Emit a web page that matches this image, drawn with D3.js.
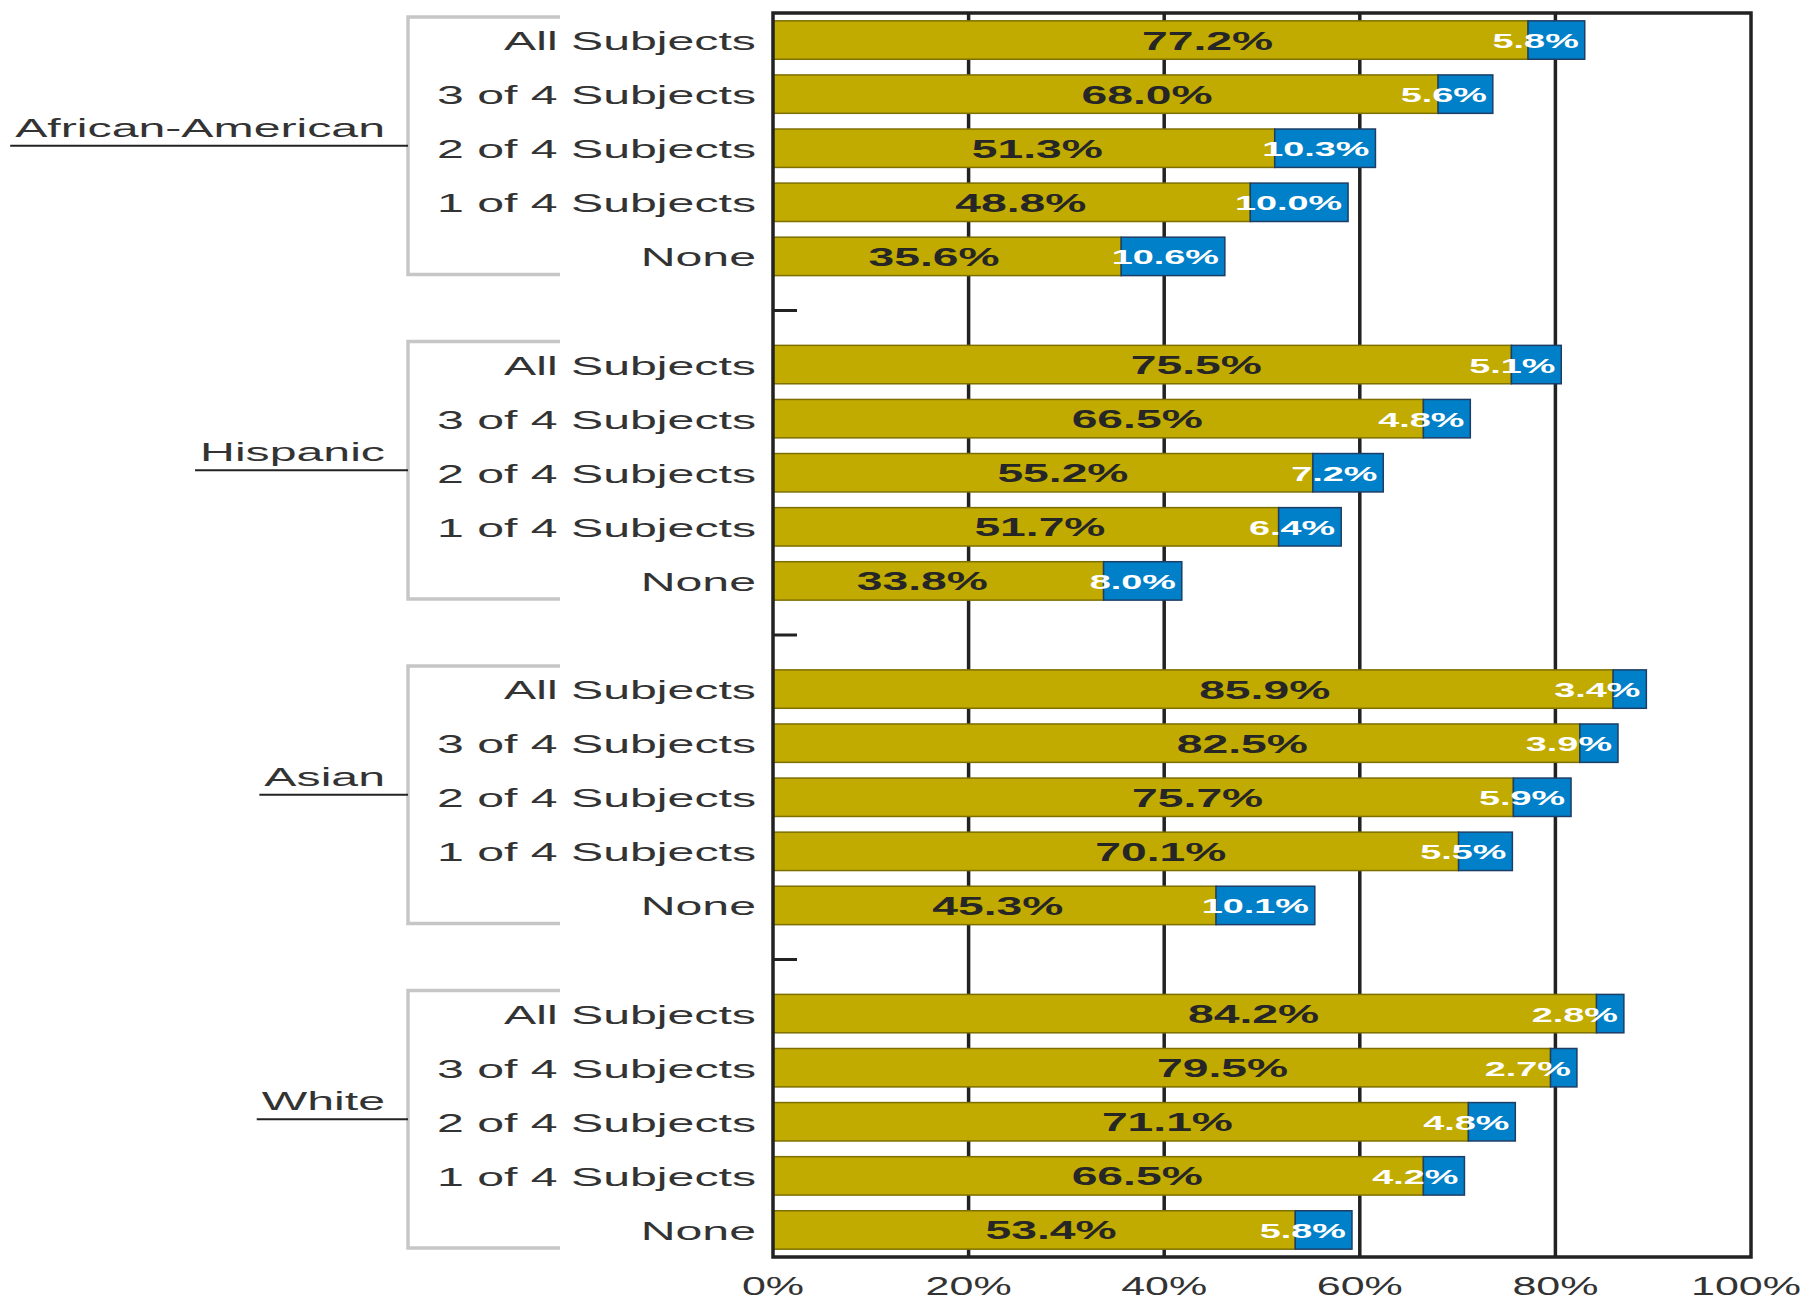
<!DOCTYPE html>
<html>
<head>
<meta charset="utf-8">
<script src="https://cdn.jsdelivr.net/npm/d3@7"></script>
<style>
  html, body { margin: 0; padding: 0; background: #fff; }
  svg { display: block; }
</style>
</head>
<body>
<div id="chart"></div>
<script>
// ---- data ----
const groups = ["African-American", "Hispanic", "Asian", "White"];
const categories = ["All Subjects", "3 of 4 Subjects", "2 of 4 Subjects", "1 of 4 Subjects", "None"];
const goldValues = [
  [77.2, 68.0, 51.3, 48.8, 35.6],
  [75.5, 66.5, 55.2, 51.7, 33.8],
  [85.9, 82.5, 75.7, 70.1, 45.3],
  [84.2, 79.5, 71.1, 66.5, 53.4]
];
const blueValues = [
  [5.8, 5.6, 10.3, 10.0, 10.6],
  [5.1, 4.8, 7.2, 6.4, 8.0],
  [3.4, 3.9, 5.9, 5.5, 10.1],
  [2.8, 2.7, 4.8, 4.2, 5.8]
];
const xTicks = [0, 20, 40, 60, 80, 100];

// ---- layout ----
const W = 1810, H = 1302;
const plot = { left: 773, right: 1751, top: 13, bottom: 1257 };
const SX = 1.82; // horizontal stretch of the text in the reference

const rows = [];
const domain = [];
groups.forEach((g, gi) => {
  categories.forEach((c, ci) => {
    const key = g + "|" + c;
    domain.push(key);
    rows.push({ key, group: g, gi, cat: c, ci, gold: goldValues[gi][ci], blue: blueValues[gi][ci] });
  });
  if (gi < groups.length - 1) domain.push("gap" + gi);
});

const x = d3.scaleLinear().domain([0, 100]).range([plot.left, plot.right]);
const y = d3.scaleBand().domain(domain).range([plot.top, plot.bottom])
  .paddingInner(0.29).paddingOuter(0.145);
const step = y.step();

const svg = d3.select("#chart").append("svg")
  .attr("width", W).attr("height", H)
  .style("font-family", "'Liberation Sans', Arial, sans-serif");

function stretchedText(parent, px, py, txt, opts) {
  const g = parent.append("g").attr("transform", `translate(${px},${py})`);
  const t = g.append("text")
    .attr("transform", `scale(${opts.sx || SX},1)`)
    .attr("text-anchor", opts.anchor || "start")
    .attr("font-size", opts.size)
    .attr("font-weight", opts.weight || "normal")
    .attr("fill", opts.fill || "#333")
    .text(txt);
  return t;
}

// ---- gridlines ----
svg.append("g").selectAll("line").data(xTicks.filter(t => t > 0 && t < 100)).join("line")
  .attr("x1", d => x(d)).attr("x2", d => x(d))
  .attr("y1", plot.top).attr("y2", plot.bottom)
  .attr("stroke", "#222").attr("stroke-width", 3.5);

// ---- bars ----
const barG = svg.append("g");
barG.selectAll("rect.gold").data(rows).join("rect").attr("class", "gold")
  .attr("x", x(0)).attr("y", d => y(d.key))
  .attr("width", d => x(d.gold) - x(0)).attr("height", y.bandwidth())
  .attr("fill", "#C2AB00").attr("stroke", "#7d6f00").attr("stroke-width", 1.5);
barG.selectAll("rect.blue").data(rows).join("rect").attr("class", "blue")
  .attr("x", d => x(d.gold)).attr("y", d => y(d.key))
  .attr("width", d => x(d.gold + d.blue) - x(d.gold)).attr("height", y.bandwidth())
  .attr("fill", "#0080C8").attr("stroke", "#1d3d66").attr("stroke-width", 1.5);

// ---- frame ----
svg.append("rect")
  .attr("x", plot.left).attr("y", plot.top)
  .attr("width", plot.right - plot.left).attr("height", plot.bottom - plot.top)
  .attr("fill", "none").attr("stroke", "#222").attr("stroke-width", 3.5);

// small ticks at gap slots
svg.append("g").selectAll("line").data(domain.filter(k => k.startsWith("gap"))).join("line")
  .attr("x1", plot.left).attr("x2", plot.left + 24)
  .attr("y1", d => y(d) + y.bandwidth() / 2).attr("y2", d => y(d) + y.bandwidth() / 2)
  .attr("stroke", "#222").attr("stroke-width", 3);

// ---- value labels ----
const labG = svg.append("g");
rows.forEach(d => {
  const cy = y(d.key) + y.bandwidth() / 2;
  const cx = x(0.672 * d.gold - 7.45);
  stretchedText(labG, cx, cy + 9.5, d.gold.toFixed(1) + "%",
    { size: 25, weight: "bold", fill: "#262626", anchor: "middle", sx: 1.85 });
  stretchedText(labG, x(d.gold + d.blue) - 6, cy + 8, d.blue.toFixed(1) + "%",
    { size: 21, weight: "bold", fill: "#ffffff", anchor: "end", sx: 1.8 });
});

// ---- category labels ----
const catG = svg.append("g");
rows.forEach(d => {
  const cy = y(d.key) + y.bandwidth() / 2;
  stretchedText(catG, 756, cy + 10, d.cat, { size: 26.5, fill: "#333", anchor: "end" });
});

// ---- group brackets & labels ----
const brG = svg.append("g");
groups.forEach((g, gi) => {
  const first = y(g + "|" + categories[0]) - y.step() * y.paddingInner() / 2;
  const last = y(g + "|" + categories[categories.length - 1]) + y.bandwidth() + step * y.paddingInner() / 2;
  const top = first + 4, bot = last - 9;
  brG.append("path")
    .attr("d", `M560,${top} H408 V${bot} H560`)
    .attr("fill", "none").attr("stroke", "#c6c6c6").attr("stroke-width", 3.5);
  const mid = (top + bot) / 2;
  const t = stretchedText(brG, 385, mid - 9, g, { size: 26.5, fill: "#333", anchor: "end" });
  const w = t.node().getComputedTextLength() * SX;
  brG.append("line")
    .attr("x1", 385 - w - 5).attr("x2", 408)
    .attr("y1", mid).attr("y2", mid)
    .attr("stroke", "#222").attr("stroke-width", 2);
});

// ---- x axis labels ----
const axG = svg.append("g");
xTicks.forEach(t => {
  stretchedText(axG, Math.min(x(t), 1746), 1295, t + "%", { size: 25, fill: "#333", anchor: "middle", sx: 1.72 });
});
</script>
</body>
</html>
